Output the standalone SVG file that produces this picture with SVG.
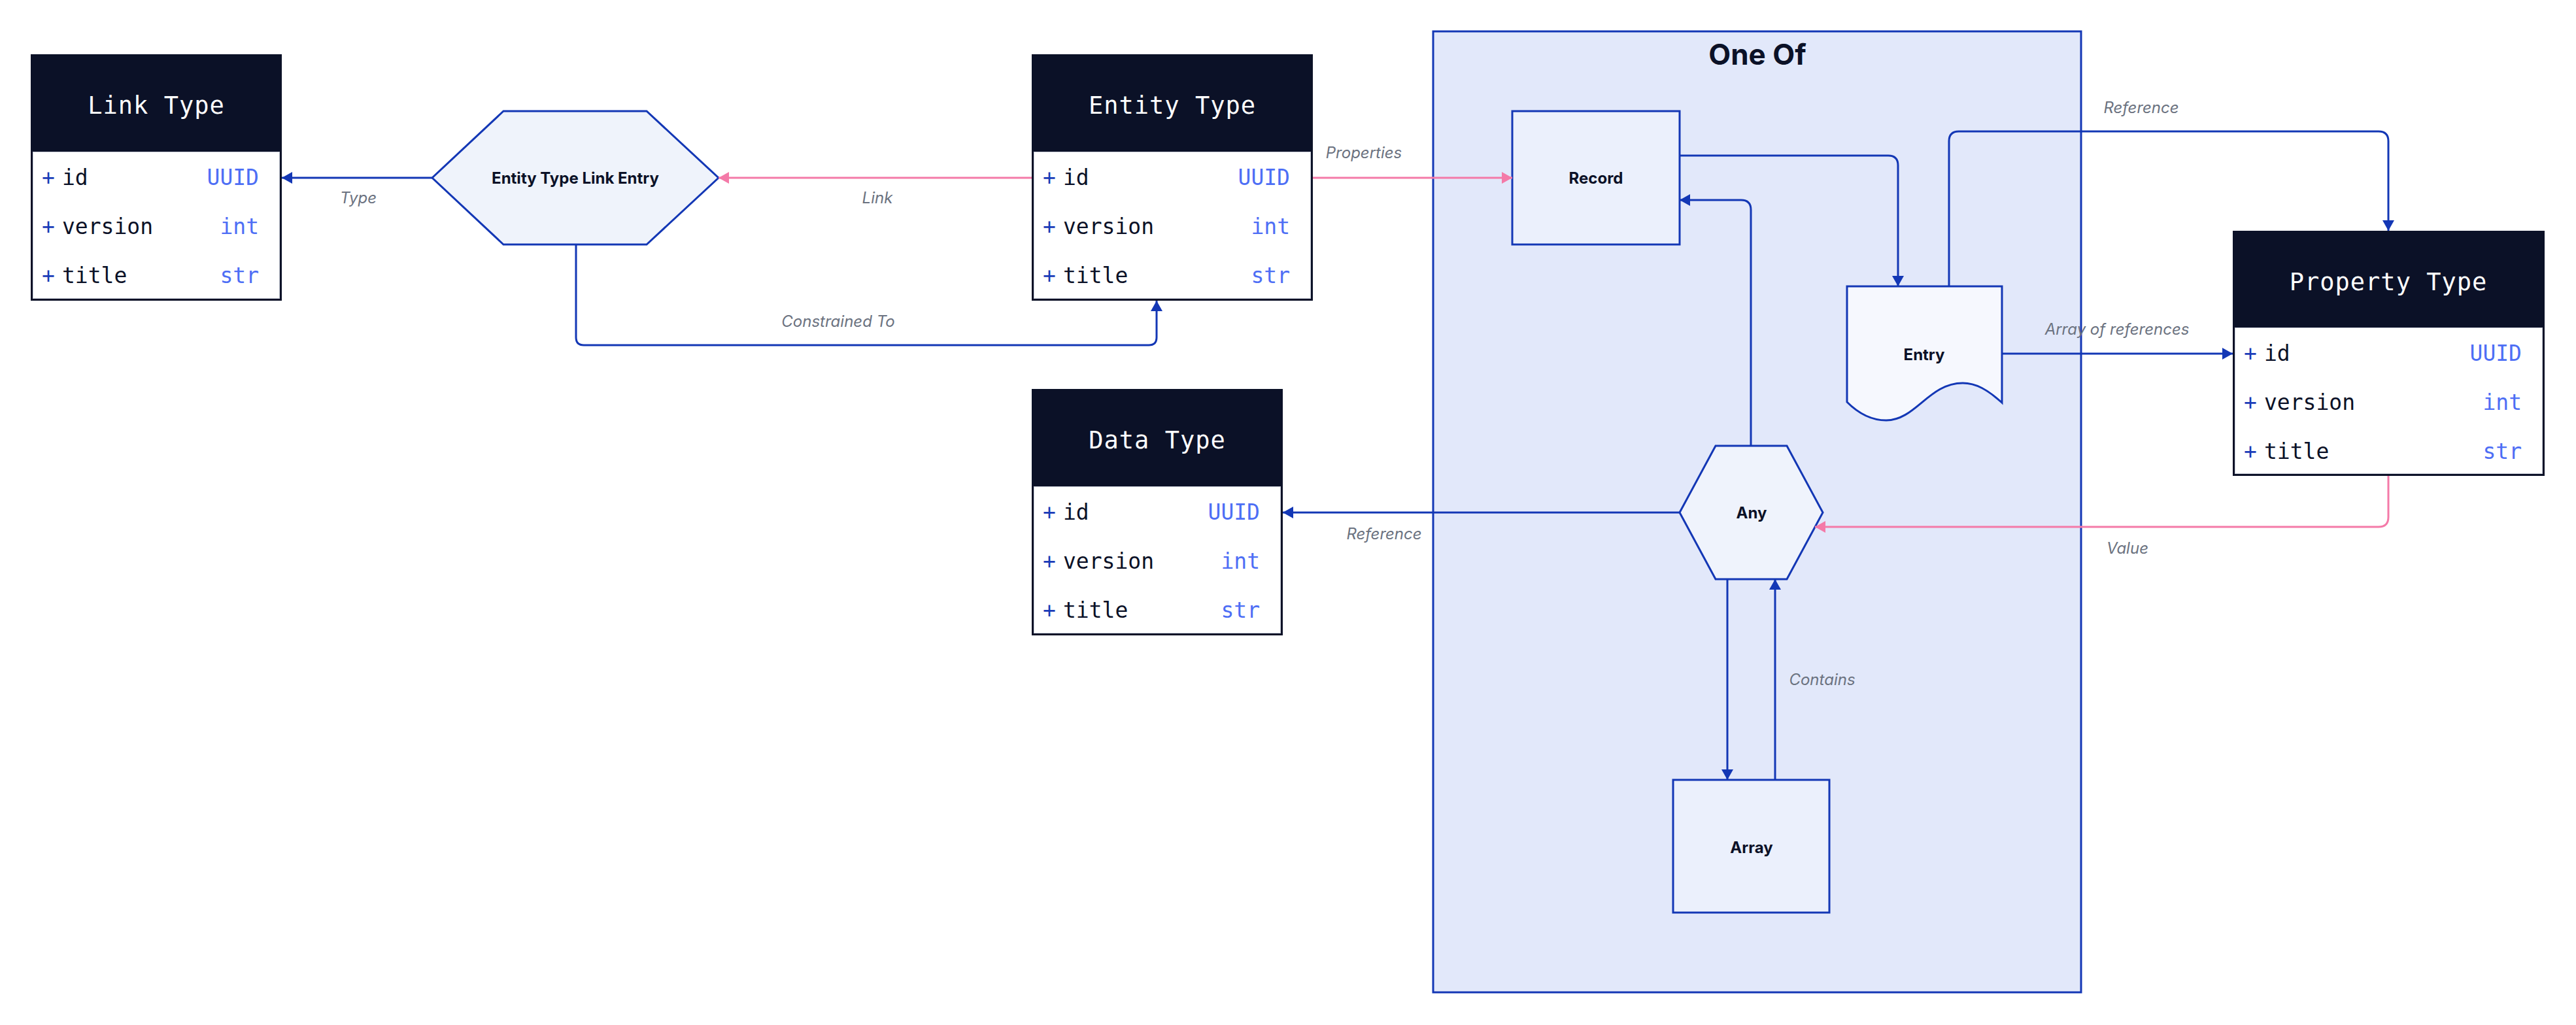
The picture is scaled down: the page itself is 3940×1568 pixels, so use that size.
<svg xmlns="http://www.w3.org/2000/svg" width="3940" height="1568" viewBox="0 0 3940 1568">
<defs>
<style>
.hdr{fill:#0b1127}
.body{fill:#ffffff;stroke:#c9cdd8;stroke-width:1}
.ttl{font-family:"DejaVu Sans Mono","Liberation Mono",monospace;font-size:37px;letter-spacing:1px;fill:#ffffff;text-anchor:middle}
.plus{font-family:"DejaVu Sans Mono","Liberation Mono",monospace;font-size:33px;fill:#1a3bb8}
.fld{font-family:"DejaVu Sans Mono","Liberation Mono",monospace;font-size:33px;fill:#0b1127}
.typ{font-family:"DejaVu Sans Mono","Liberation Mono",monospace;font-size:33px;fill:#4d6ef5;text-anchor:end}
.shape{stroke:#1337b5;stroke-width:3}
.nlbl{font-family:Inter,"Liberation Sans",sans-serif;font-weight:700;font-size:24px;fill:#0b1127;text-anchor:middle;dominant-baseline:central}
.elbl{font-family:Inter,"Liberation Sans",sans-serif;font-style:italic;font-size:24px;fill:#6b7280;text-anchor:middle}
.cb{fill:none;stroke:#1337b5;stroke-width:3}
.cp{fill:none;stroke:#f47aa8;stroke-width:3}
</style>
<marker id="ab" viewBox="0 0 16 18" refX="16" refY="9" markerWidth="16" markerHeight="18" markerUnits="userSpaceOnUse" orient="auto"><path d="M0,0 L16,9 L0,18 Z" fill="#1337b5"/></marker>
<marker id="ap" viewBox="0 0 16 18" refX="16" refY="9" markerWidth="16" markerHeight="18" markerUnits="userSpaceOnUse" orient="auto"><path d="M0,0 L16,9 L0,18 Z" fill="#f47aa8"/></marker>
</defs>
<rect width="3940" height="1568" fill="#ffffff"/>

<g id="one-of">
<rect x="2192" y="48" width="991" height="1470" fill="#e2e8fa" class="shape"/>
<text x="2688" y="99" font-family="Inter,'Liberation Sans',sans-serif" font-weight="700" font-size="44" fill="#0b1127" text-anchor="middle">One Of</text>
</g>

<g id="link-type">
<rect x="47" y="83" width="384" height="377" class="hdr"/>
<rect x="50.5" y="232.5" width="377" height="224" class="body"/>
<text x="239" y="174" class="ttl">Link Type</text>
<text x="64" y="283" class="plus">+</text><text x="95" y="283" class="fld">id</text><text x="396" y="283" class="typ">UUID</text>
<text x="64" y="358" class="plus">+</text><text x="95" y="358" class="fld">version</text><text x="396" y="358" class="typ">int</text>
<text x="64" y="433" class="plus">+</text><text x="95" y="433" class="fld">title</text><text x="396" y="433" class="typ">str</text>
</g>

<g id="entity-type-link-entry">
<polygon points="661,272 770,170 989,170 1099,272 989,374 770,374" fill="#eff3fb" class="shape"/>
<text x="880" y="272" class="nlbl">Entity Type Link Entry</text>
</g>

<g id="entity-type">
<rect x="1578" y="83" width="430" height="377" class="hdr"/>
<rect x="1581.5" y="232.5" width="423" height="224" class="body"/>
<text x="1793" y="174" class="ttl">Entity Type</text>
<text x="1595" y="283" class="plus">+</text><text x="1626" y="283" class="fld">id</text><text x="1973" y="283" class="typ">UUID</text>
<text x="1595" y="358" class="plus">+</text><text x="1626" y="358" class="fld">version</text><text x="1973" y="358" class="typ">int</text>
<text x="1595" y="433" class="plus">+</text><text x="1626" y="433" class="fld">title</text><text x="1973" y="433" class="typ">str</text>
</g>

<g id="data-type">
<rect x="1578" y="595" width="384" height="377" class="hdr"/>
<rect x="1581.5" y="744.5" width="377" height="224" class="body"/>
<text x="1770" y="686" class="ttl">Data Type</text>
<text x="1595" y="795" class="plus">+</text><text x="1626" y="795" class="fld">id</text><text x="1927" y="795" class="typ">UUID</text>
<text x="1595" y="870" class="plus">+</text><text x="1626" y="870" class="fld">version</text><text x="1927" y="870" class="typ">int</text>
<text x="1595" y="945" class="plus">+</text><text x="1626" y="945" class="fld">title</text><text x="1927" y="945" class="typ">str</text>
</g>

<g id="property-type">
<rect x="3415" y="353" width="477" height="375" class="hdr"/>
<rect x="3418.5" y="501.5" width="470" height="223" class="body"/>
<text x="3653" y="444" class="ttl">Property Type</text>
<text x="3432" y="552" class="plus">+</text><text x="3463" y="552" class="fld">id</text><text x="3857" y="552" class="typ">UUID</text>
<text x="3432" y="627" class="plus">+</text><text x="3463" y="627" class="fld">version</text><text x="3857" y="627" class="typ">int</text>
<text x="3432" y="702" class="plus">+</text><text x="3463" y="702" class="fld">title</text><text x="3857" y="702" class="typ">str</text>
</g>

<g id="record">
<rect x="2313" y="170" width="256" height="204" fill="#ebf0fc" class="shape"/>
<text x="2441" y="272" class="nlbl">Record</text>
</g>

<g id="entry">
<path d="M2825,438 H3062 V616 C3040,596 3022,586 3002,586 C2950,586 2930,643 2885,643 C2860,643 2840,630 2825,615 Z" fill="#f6f8fe" class="shape"/>
<text x="2943" y="542" class="nlbl">Entry</text>
</g>

<g id="any">
<polygon points="2569,784 2624,682 2733,682 2788,784 2733,886 2624,886" fill="#eff3fc" class="shape"/>
<text x="2679" y="784" class="nlbl">Any</text>
</g>

<g id="array">
<rect x="2559" y="1193" width="239" height="203" fill="#ebf0fc" class="shape"/>
<text x="2679" y="1296" class="nlbl">Array</text>
</g>

<g id="connectors">
<path d="M661,272 H431" class="cb" marker-end="url(#ab)"/>
<text x="548" y="311" class="elbl">Type</text>
<path d="M1578,272 H1099" class="cp" marker-end="url(#ap)"/>
<text x="1342" y="311" class="elbl">Link</text>
<path d="M881,374 V516 Q881,528 893,528 H1757 Q1769,528 1769,516 V460" class="cb" marker-end="url(#ab)"/>
<text x="1282" y="500" class="elbl">Constrained To</text>
<path d="M2008,272 H2313" class="cp" marker-end="url(#ap)"/>
<text x="2086" y="242" class="elbl">Properties</text>
<path d="M2569,238 H2888 Q2903,238 2903,253 V438" class="cb" marker-end="url(#ab)"/>
<path d="M2981,438 V216 Q2981,201 2996,201 H3638 Q3653,201 3653,216 V353" class="cb" marker-end="url(#ab)"/>
<text x="3275" y="173" class="elbl">Reference</text>
<path d="M3062,541 H3415" class="cb" marker-end="url(#ab)"/>
<text x="3238" y="512" class="elbl">Array of references</text>
<path d="M3653,728 V791 Q3653,806 3638,806 H2776" class="cp" marker-end="url(#ap)"/>
<text x="3254" y="847" class="elbl">Value</text>
<path d="M2569,784 H1962" class="cb" marker-end="url(#ab)"/>
<text x="2117" y="825" class="elbl">Reference</text>
<path d="M2678,682 V321 Q2678,306 2663,306 H2569" class="cb" marker-end="url(#ab)"/>
<path d="M2642,886 V1193" class="cb" marker-end="url(#ab)"/>
<path d="M2715,1193 V886" class="cb" marker-end="url(#ab)"/>
<text x="2787" y="1048" class="elbl">Contains</text>
</g>
</svg>
